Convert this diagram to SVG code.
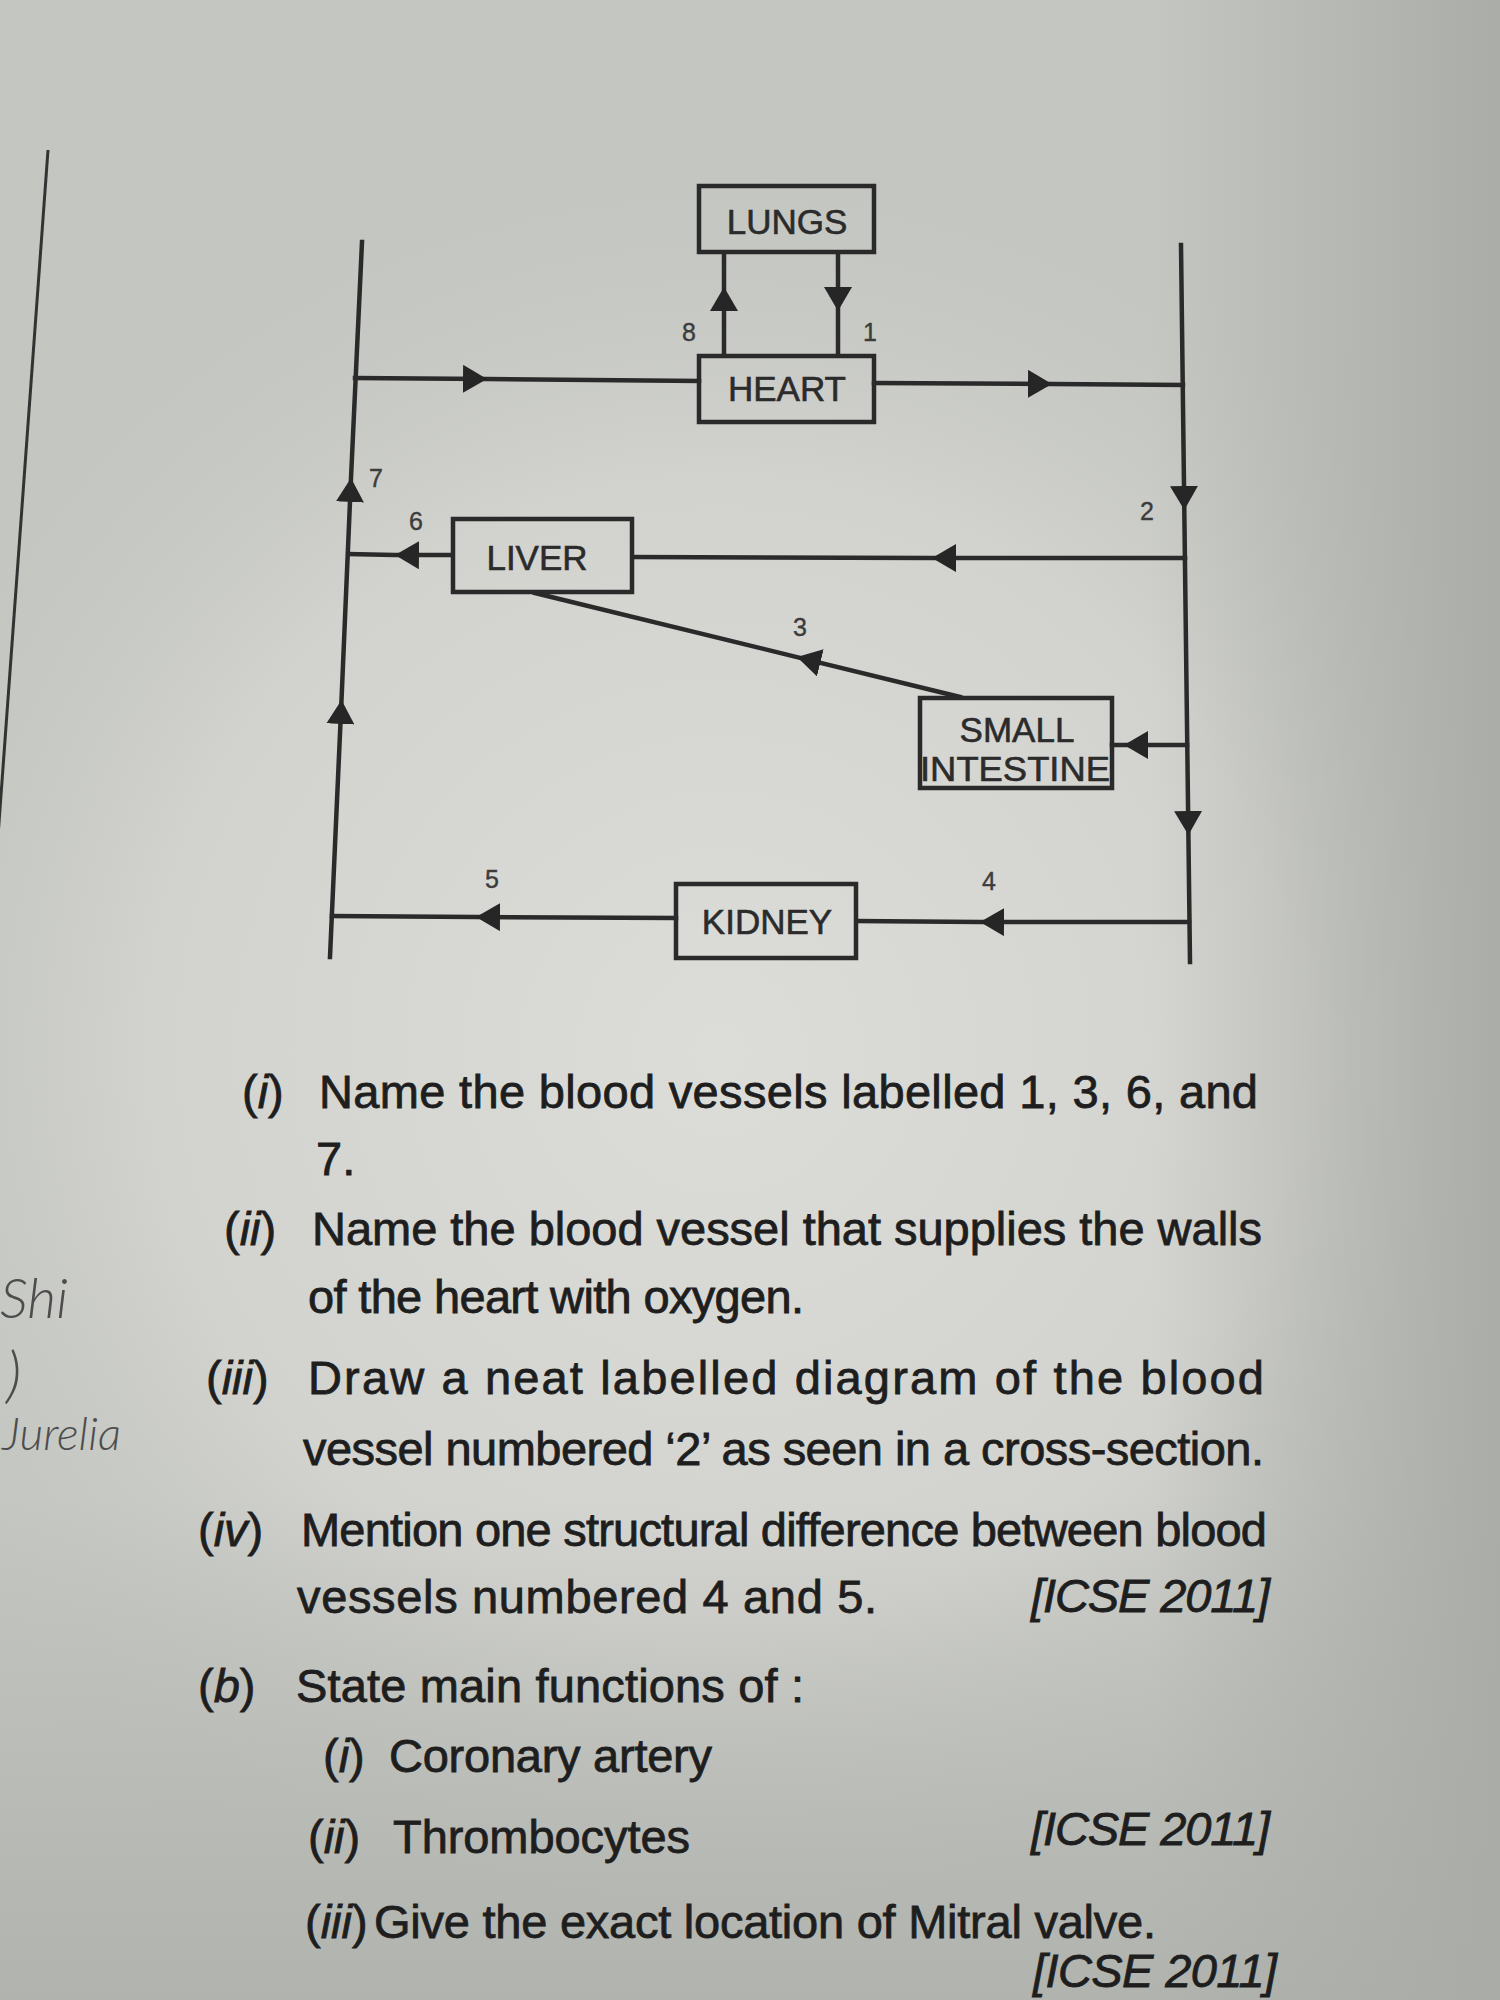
<svg xmlns="http://www.w3.org/2000/svg" width="1500" height="2000" viewBox="0 0 1500 2000">
  <defs>
    <radialGradient id="light" cx="720" cy="1050" r="950" gradientUnits="userSpaceOnUse">
      <stop offset="0" stop-color="#dcddd9"/>
      <stop offset="0.6" stop-color="#d2d3cf"/>
      <stop offset="1" stop-color="#c2c4c0" stop-opacity="0"/>
    </radialGradient>
    <linearGradient id="rightShade" x1="1150" y1="0" x2="1500" y2="0" gradientUnits="userSpaceOnUse">
      <stop offset="0" stop-color="#a4a6a2" stop-opacity="0"/>
      <stop offset="1" stop-color="#a4a6a2" stop-opacity="0.8"/>
    </linearGradient>
    <linearGradient id="bottomShade" x1="0" y1="1500" x2="0" y2="2000" gradientUnits="userSpaceOnUse">
      <stop offset="0" stop-color="#a9aba7" stop-opacity="0"/>
      <stop offset="1" stop-color="#a9aba7" stop-opacity="0.7"/>
    </linearGradient>
    <marker id="ah" viewBox="0 0 24 28" refX="24" refY="14" markerWidth="24" markerHeight="28" markerUnits="userSpaceOnUse" orient="auto">
      <path d="M0,0 L24,14 L0,28 Z" fill="#262626"/>
    </marker>
    <style>
      .box { fill: none; stroke: #2a2a2a; stroke-width: 4.5; }
      .lbl { font-family: "Liberation Sans", Arial, sans-serif; font-size: 35px; fill: #2b2b2b; stroke: #2b2b2b; stroke-width: 0.6; text-anchor: middle; }
      .num { font-family: "Liberation Sans", Arial, sans-serif; font-size: 25px; fill: #3c3c3c; stroke: #3c3c3c; stroke-width: 0.4; text-anchor: middle; }
      .line { fill: none; stroke: #2a2a2a; stroke-width: 4.5; stroke-linecap: square; }
      .arr { marker-mid: url(#ah); }
      .q { font-family: "Liberation Sans", Arial, sans-serif; font-size: 47px; fill: #1e1e1e; stroke: #1e1e1e; stroke-width: 0.8; }
      .it { font-style: italic; }
      .hand { font-family: Lato, "DejaVu Sans", sans-serif; font-weight: 300; font-style: italic; fill: #4d4d4d; }
    </style>
  </defs>

  <!-- paper -->
  <rect x="0" y="0" width="1500" height="2000" fill="#c4c6c2"/>
  <rect x="0" y="0" width="1500" height="2000" fill="url(#light)"/>
  <rect x="0" y="0" width="1500" height="2000" fill="url(#rightShade)"/>
  <rect x="0" y="0" width="1500" height="2000" fill="url(#bottomShade)"/>

  <!-- page margin line -->
  <line x1="48" y1="150" x2="-3" y2="850" stroke="#333" stroke-width="3"/>

  <!-- connectors -->
  <g id="connectors">
    <path class="line arr" d="M330,957 L341.5,700 L351,478 L362,242"/>
    <path class="line arr" d="M1181,245 L1184.3,510 L1188.4,835 L1190,962"/>
    <path class="line arr" d="M355,378 L487,379 L699,381"/>
    <path class="line arr" d="M874,383 L1052,384 L1183,385"/>
    <path class="line arr" d="M724,355 L724,287 L724,253"/>
    <path class="line arr" d="M838,253 L838,311 L838,355"/>
    <path class="line arr" d="M1185,558 L932,558 L633,557"/>
    <path class="line arr" d="M452,555 L395,555 L349,554"/>
    <path class="line arr" d="M960,697 L797,657.1 L535,593"/>
    <path class="line arr" d="M1187,745 L1124,745 L1112,745"/>
    <path class="line arr" d="M1189,922 L980,922 L857,921"/>
    <path class="line arr" d="M676,918 L476,917 L332,916"/>
  </g>

  <!-- nodes -->
  <g id="lungs">
    <rect class="box" x="699" y="186" width="175" height="66"/>
    <text class="lbl" x="787" y="234">LUNGS</text>
  </g>
  <g id="heart">
    <rect class="box" x="699" y="356" width="175" height="66"/>
    <text class="lbl" x="787" y="401">HEART</text>
  </g>
  <g id="liver">
    <rect class="box" x="453" y="519" width="179" height="73"/>
    <text class="lbl" x="537" y="570">LIVER</text>
  </g>
  <g id="small-intestine">
    <rect class="box" x="920" y="698" width="192" height="90"/>
    <text class="lbl" x="1017" y="742">SMALL</text>
    <text class="lbl" x="1015" y="781" textLength="190" lengthAdjust="spacingAndGlyphs">INTESTINE</text>
  </g>
  <g id="kidney">
    <rect class="box" x="676" y="884" width="180" height="74"/>
    <text class="lbl" x="767" y="934">KIDNEY</text>
  </g>

  <!-- vessel numbers -->
  <g id="numbers">
    <text class="num" x="689" y="341">8</text>
    <text class="num" x="870" y="341">1</text>
    <text class="num" x="376" y="487">7</text>
    <text class="num" x="416" y="530">6</text>
    <text class="num" x="1147" y="520">2</text>
    <text class="num" x="800" y="636">3</text>
    <text class="num" x="492" y="888">5</text>
    <text class="num" x="989" y="890">4</text>
  </g>

  <!-- question text -->
  <g id="questions">
    <text class="q" x="242" y="1108">(<tspan class="it">i</tspan>)</text>
    <text class="q" x="319" y="1108" textLength="939" lengthAdjust="spacing">Name the blood vessels labelled 1, 3, 6, and</text>
    <text class="q" x="316" y="1175">7.</text>

    <text class="q" x="224" y="1245">(<tspan class="it">ii</tspan>)</text>
    <text class="q" x="312" y="1245" textLength="950" lengthAdjust="spacing">Name the blood vessel that supplies the walls</text>
    <text class="q" x="308" y="1313" textLength="496" lengthAdjust="spacing">of the heart with oxygen.</text>

    <text class="q" x="206" y="1394">(<tspan class="it">iii</tspan>)</text>
    <text class="q" x="308" y="1394" textLength="956" lengthAdjust="spacing">Draw a neat labelled diagram of the blood</text>
    <text class="q" x="303" y="1465" textLength="961" lengthAdjust="spacing">vessel numbered ‘2’ as seen in a cross-section.</text>

    <text class="q" x="198" y="1546">(<tspan class="it">iv</tspan>)</text>
    <text class="q" x="301" y="1546" textLength="966" lengthAdjust="spacing">Mention one structural difference between blood</text>
    <text class="q" x="297" y="1613" textLength="580" lengthAdjust="spacing">vessels numbered 4 and 5.</text>
    <text class="q it" x="1031" y="1612" textLength="239" lengthAdjust="spacing">[ICSE 2011]</text>

    <text class="q" x="198" y="1702">(<tspan class="it">b</tspan>)</text>
    <text class="q" x="296" y="1702" textLength="508" lengthAdjust="spacing">State main functions of :</text>

    <text class="q" x="323" y="1772">(<tspan class="it">i</tspan>)</text>
    <text class="q" x="389" y="1772" textLength="323" lengthAdjust="spacing">Coronary artery</text>

    <text class="q" x="308" y="1853">(<tspan class="it">ii</tspan>)</text>
    <text class="q" x="393" y="1853" textLength="297" lengthAdjust="spacing">Thrombocytes</text>
    <text class="q it" x="1031" y="1845" textLength="239" lengthAdjust="spacing">[ICSE 2011]</text>

    <text class="q" x="305" y="1938">(<tspan class="it">iii</tspan>)</text>
    <text class="q" x="374" y="1938" textLength="782" lengthAdjust="spacing">Give the exact location of Mitral valve.</text>

    <text class="q it" x="1033" y="1987" textLength="244" lengthAdjust="spacing">[ICSE 2011]</text>
  </g>

  <!-- handwriting in margin -->
  <g id="handwriting">
    <text class="hand" x="0" y="1318" font-size="56">Shi</text>
    <text class="hand" x="6" y="1396" font-size="62">)</text>
    <text class="hand" x="2" y="1450" font-size="46">Jurelia</text>
  </g>
</svg>
